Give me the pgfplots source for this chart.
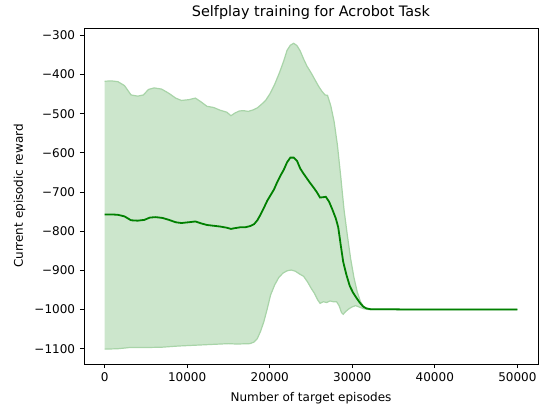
\documentclass[border=0pt]{standalone}
\usepackage{fontspec}
\setmainfont{DejaVu Sans}
\usepackage{pgfplots}
\pgfplotsset{compat=1.18}
\usepgfplotslibrary{fillbetween}
\definecolor{mplgreen}{RGB}{0,128,0}
\definecolor{bandfill}{RGB}{204,230,204}
\definecolor{bandedge}{RGB}{168,212,168}
\begin{document}
\begin{tikzpicture}
\begin{axis}[
  scale only axis,
  width=340.5pt, height=252pt,
  xmin=-2500, xmax=52500,
  ymin=-1139, ymax=-281,
  scaled x ticks=false, scaled y ticks=false,
  tick pos=left,
  tick align=outside,
  major tick length=3.15pt,
  axis line style={line width=0.72pt},
  every tick/.style={line width=0.72pt, black},
  xtick={0,10000,20000,30000,40000,50000},
  xticklabels={0,10000,20000,30000,40000,50000},
  ytick={-1100,-1000,-900,-800,-700,-600,-500,-400,-300},
  yticklabels={−1100,−1000,−900,−800,−700,−600,−500,−400,−300},
  tick label style={font=\fontsize{9}{10}\selectfont},
  label style={font=\fontsize{9}{10}\selectfont},
  xlabel style={yshift=-1pt},
  title style={font=\fontsize{10.8}{12}\selectfont, yshift=-3pt},
  title={Selfplay training for Acrobot Task},
  xlabel={Number of target episodes},
  ylabel={Current episodic reward},
]
\coordinate (sw) at (rel axis cs:0,0);
\addplot[name path=hi, draw=bandedge, line width=0.9pt] coordinates {
(0,-417) (800,-416) (1600,-418) (2400,-428) (3200,-452) (4000,-455) (4700,-452)
(5300,-438) (6000,-434) (6900,-437) (7800,-448) (8600,-460) (9300,-466) (10200,-464)
(11000,-460) (11700,-470) (12400,-481) (13200,-484) (14000,-491) (14800,-496)
(15300,-505) (15800,-498) (16300,-493) (16800,-492) (17400,-494) (18000,-490)
(18500,-485) (19000,-476) (19500,-466) (20000,-450) (20600,-425) (21200,-394)
(21700,-365) (22100,-338) (22500,-325) (22900,-320) (23300,-326) (23700,-340)
(24100,-360) (24500,-378) (25000,-395) (25500,-414) (25900,-429) (26300,-442)
(26700,-452) (27000,-453) (27400,-480) (27800,-520) (28200,-580) (28600,-660)
(29000,-745) (29400,-810) (29800,-870) (30200,-918) (30600,-955) (31000,-980)
(31400,-993) (31800,-998) (32200,-1000) (50000,-1000)
};
\addplot[name path=lo, draw=bandedge, line width=0.9pt] coordinates {
(0,-1101) (1600,-1100) (3000,-1097) (5000,-1097) (7000,-1096) (9000,-1093)
(11000,-1091) (13000,-1089) (15000,-1087) (16000,-1088) (17600,-1087) (18100,-1083)
(18500,-1074) (18900,-1055) (19300,-1030) (19700,-998) (20100,-963) (20600,-937)
(21100,-918) (21600,-907) (22100,-901) (22600,-899) (23100,-902) (23600,-909)
(24100,-915) (24600,-930) (25000,-945) (25400,-958) (25800,-975) (26100,-984)
(26500,-980) (26900,-982) (27300,-978) (27700,-980) (28100,-980) (28400,-990)
(28700,-1008) (28900,-1012) (29200,-1005) (29600,-998) (30000,-993) (30400,-990)
(30900,-994) (31400,-998) (32000,-1000) (50000,-1000)
};
\addplot[bandfill, draw=none] fill between[of=hi and lo];
\addplot[mplgreen, line width=1.35pt] coordinates {
(0,-757) (800,-757) (1600,-758) (2400,-762) (3200,-772) (4000,-773) (4800,-771)
(5500,-765) (6200,-764) (7000,-766) (7800,-771) (8600,-777) (9300,-779) (10200,-777)
(11000,-775) (11700,-780) (12400,-784) (13200,-786) (14000,-788) (14800,-791)
(15300,-794) (15800,-792) (16400,-790) (17000,-790) (17600,-787) (18100,-782)
(18500,-772) (18900,-757) (19300,-740) (19700,-722) (20100,-708) (20500,-694)
(20900,-675) (21300,-658) (21700,-643) (22100,-624) (22500,-612) (22900,-612)
(23300,-620) (23700,-640) (24100,-653) (24500,-665) (24900,-677) (25300,-688)
(25700,-700) (26100,-714) (26500,-713) (26800,-712) (27200,-725) (27600,-745)
(28000,-767) (28300,-790) (28600,-835) (28900,-878) (29300,-912) (29700,-940)
(30100,-957) (30500,-970) (30900,-982) (31300,-992) (31700,-997) (32200,-999)
(34000,-999) (37000,-1000) (50000,-1000)
};
\end{axis}
\pgfresetboundingbox
\path ([shift={(-63pt,-31.5pt)}]sw) rectangle ++(405.75pt,304.5pt);
\end{tikzpicture}
\end{document}
